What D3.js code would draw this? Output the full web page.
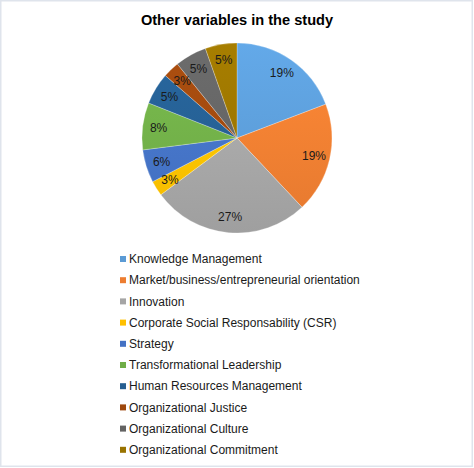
<!DOCTYPE html>
<html>
<head>
<meta charset="utf-8">
<script src="https://cdn.jsdelivr.net/npm/d3@7"></script>
<style>
  body { margin: 0; background: #fff; }
  text { font-family: "Liberation Sans", Arial, sans-serif; }
</style>
</head>
<body>
<div class="chart"></div>
<script>
// data (percent of studies)
const categories = [
  "Knowledge Management",
  "Market/business/entrepreneurial orientation",
  "Innovation",
  "Corporate Social Responsability (CSR)",
  "Strategy",
  "Transformational Leadership",
  "Human Resources Management",
  "Organizational Justice",
  "Organizational Culture",
  "Organizational Commitment"
];
const values = [19.2, 18.8, 26.8, 2.6, 5.6, 8.0, 5.4, 2.8, 5.4, 5.4];
const colors = ["#5b9bd5", "#ed7d31", "#a5a5a5", "#ffc000", "#4472c4",
                "#70ad47", "#255e91", "#9e480e", "#636363", "#997300"];
const title = "Other variables in the study";

const width = 474, height = 468;
const cx = 237, cy = 138, radius = 95;

const svg = d3.select(".chart").append("svg")
    .attr("width", width)
    .attr("height", height);

// outer frame
svg.append("rect")
    .attr("x", 0.75).attr("y", 0.75)
    .attr("width", width - 2.5).attr("height", height - 2.5)
    .attr("fill", "#fff")
    .attr("stroke", "#dfe4ec")
    .attr("stroke-width", 1.5);

svg.append("text")
    .attr("x", cx)
    .attr("y", 25)
    .attr("text-anchor", "middle")
    .attr("font-weight", "bold")
    .attr("font-size", "14.6px")
    .attr("fill", "#000")
    .text(title);

const data = categories.map((c, i) => ({name: c, value: values[i], color: colors[i]}));

// soft vertical gradient on each slice, like the Office style
const defs = svg.append("defs");
const grads = defs.selectAll("linearGradient").data(data).enter()
    .append("linearGradient")
    .attr("id", (d, i) => "g" + i)
    .attr("gradientUnits", "userSpaceOnUse")
    .attr("x1", 0).attr("y1", -radius)
    .attr("x2", 0).attr("y2", radius);
grads.append("stop").attr("offset", "0%")
    .attr("stop-color", d => d3.color(d.color).brighter(0.25));
grads.append("stop").attr("offset", "100%")
    .attr("stop-color", d => d3.color(d.color).darker(0.1));

const pie = d3.pie().value(d => d.value).sort(null);
const arc = d3.arc().innerRadius(0).outerRadius(radius);
const labelArc = d3.arc().innerRadius(79).outerRadius(79);

const g = svg.append("g")
    .attr("transform", `translate(${cx},${cy})`);

const arcs = pie(data);

g.selectAll("path")
    .data(arcs)
    .enter().append("path")
    .attr("d", arc)
    .attr("fill", (d, i) => `url(#g${i})`)
    .attr("stroke", "rgba(255,255,255,0.5)")
    .attr("stroke-width", 0.5);

g.selectAll(".lbl")
    .data(arcs)
    .enter().append("text")
    .attr("class", "lbl")
    .attr("transform", d => `translate(${labelArc.centroid(d)})`)
    .attr("text-anchor", "middle")
    .attr("dy", "0.35em")
    .attr("font-size", "12px")
    .attr("fill", "#1a1a1a")
    .text(d => Math.round(d.data.value) + "%");

// legend
const legend = svg.append("g")
    .attr("transform", "translate(120,259)");

const rows = legend.selectAll("g")
    .data(data)
    .enter().append("g")
    .attr("transform", (d, i) => `translate(0,${i * 21.2})`);

rows.append("rect")
    .attr("x", 0).attr("y", -3)
    .attr("width", 6).attr("height", 6)
    .attr("fill", d => d.color);

rows.append("text")
    .attr("x", 9)
    .attr("dy", "0.35em")
    .attr("font-size", "12px")
    .attr("fill", "#1a1a1a")
    .text(d => d.name);
</script>
</body>
</html>
